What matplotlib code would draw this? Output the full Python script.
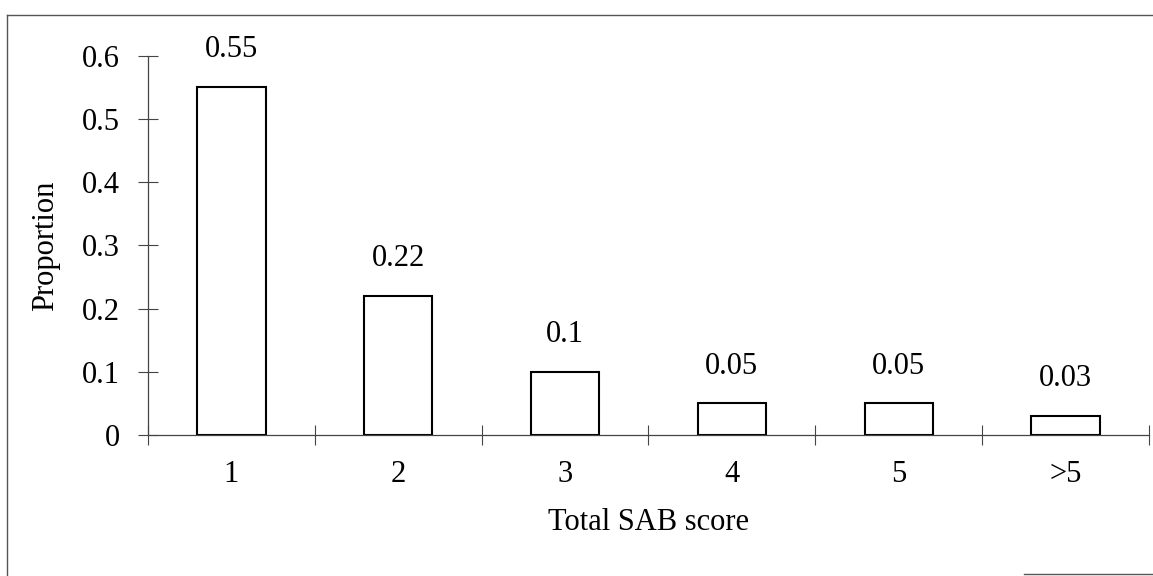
import matplotlib
matplotlib.use("Agg")
import matplotlib.pyplot as plt
from matplotlib.lines import Line2D
import numpy as np

categories = ["1", "2", "3", "4", "5", ">5"]
proportions = [0.55, 0.22, 0.10, 0.05, 0.05, 0.03]
value_labels = ["0.55", "0.22", "0.1", "0.05", "0.05", "0.03"]
yticks = [0, 0.1, 0.2, 0.3, 0.4, 0.5, 0.6]
ytick_labels = ["0", "0.1", "0.2", "0.3", "0.4", "0.5", "0.6"]

plt.rcParams['font.family'] = ['Liberation Serif', 'DejaVu Serif']
FS = 22

W, H = 1153, 576
fig = plt.figure(figsize=(W / 100, H / 100), dpi=100)
ax = fig.add_axes([148 / W, 1 - 435 / H, (1149 - 148) / W, (435 - 55.7) / H])

x = np.arange(len(categories))
ax.bar(x, proportions, width=0.41, facecolor='white', edgecolor='black', linewidth=1.5)

for xi, v, lab in zip(x, proportions, value_labels):
    ax.annotate(lab, (xi, v), xytext=(0, 21.5), textcoords='offset points',
                ha='center', va='baseline', fontsize=FS)

ax.set_xlim(-0.5, len(categories) - 0.5)
ax.set_ylim(0, 0.6)

ax.set_yticks(yticks)
ax.set_yticklabels(ytick_labels, fontsize=FS)
ax.tick_params(axis='y', direction='inout', length=14.4, width=0.8, color='#444444', pad=13)

ax.set_xticks(np.arange(len(categories) + 1) - 0.5)
ax.set_xticklabels([''] * (len(categories) + 1))
ax.set_xticks(x, minor=True)
ax.set_xticklabels(categories, minor=True, fontsize=FS)
ax.tick_params(axis='x', which='major', direction='inout', length=14.4, width=0.8, color='#444444')
ax.tick_params(axis='x', which='minor', length=0, pad=18)

for s in ['top', 'right']:
    ax.spines[s].set_visible(False)
for s in ['left', 'bottom']:
    ax.spines[s].set_color('#444444')
    ax.spines[s].set_linewidth(0.9)

ax.set_ylabel("Proportion", fontsize=FS, labelpad=16)
ax.set_xlabel("Total SAB score", fontsize=FS, labelpad=14)

# page frame (partial, as in the scanned original)
frame_kw = dict(transform=fig.transFigure, color='#555555', linewidth=1.0)
fig.lines.append(Line2D([7 / W, 1.0], [1 - 15 / H, 1 - 15 / H], **frame_kw))
fig.lines.append(Line2D([7 / W, 7 / W], [1 - 15 / H, 0.0], **frame_kw))
fig.lines.append(Line2D([1024 / W, 1.0], [1 - 574 / H, 1 - 574 / H], **frame_kw))

fig.savefig("out.png", dpi=100)
